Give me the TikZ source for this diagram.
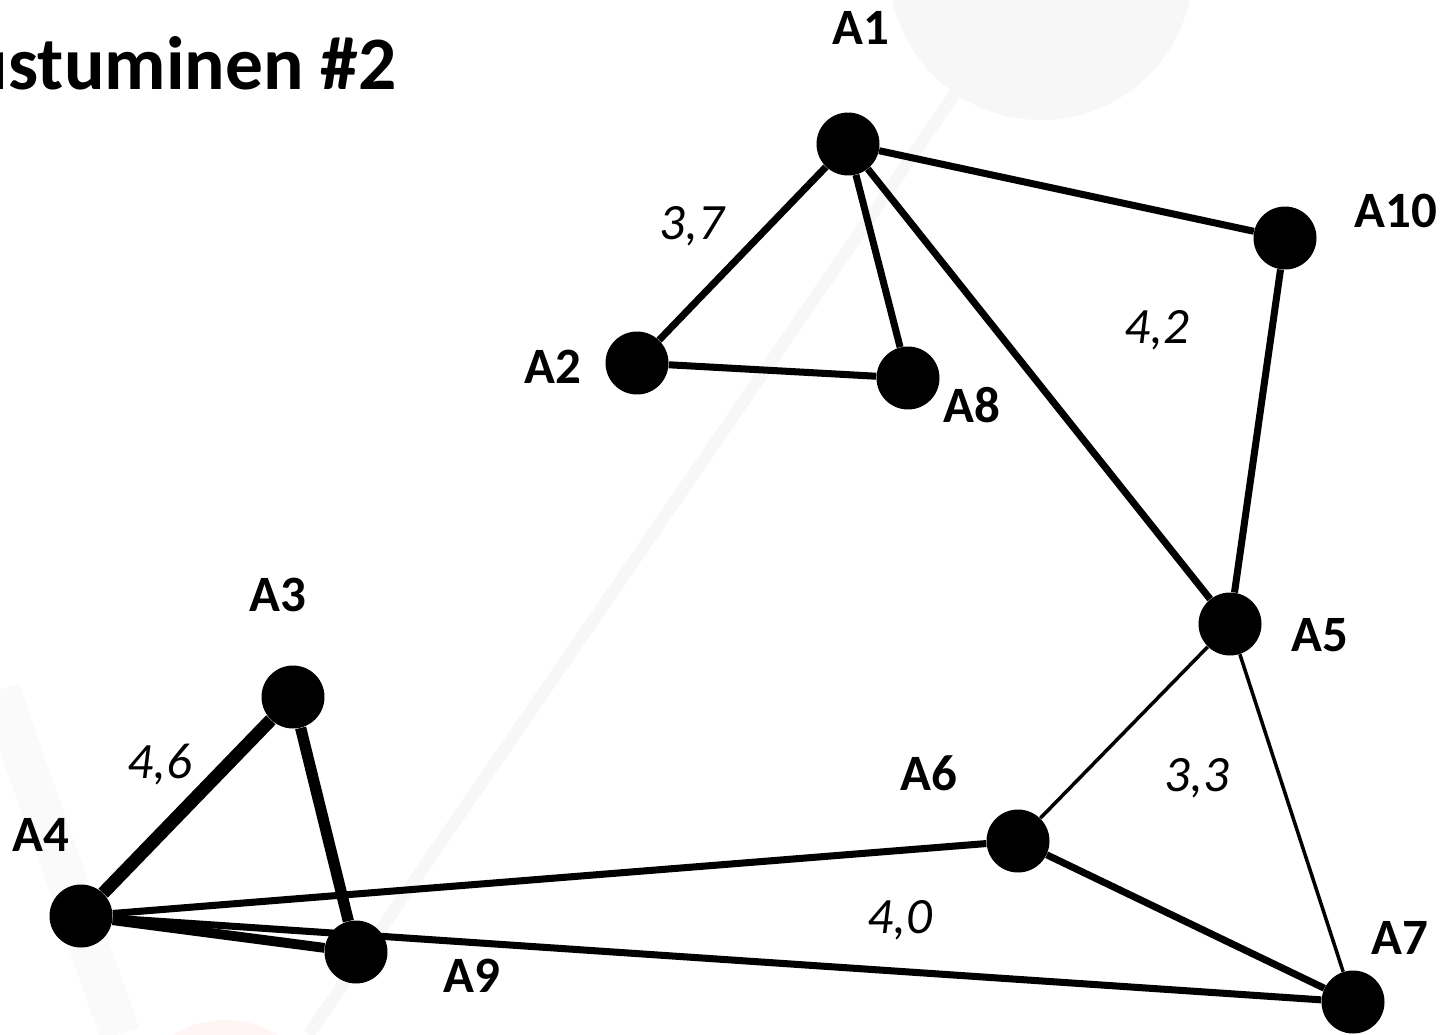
\documentclass[tikz,border=0pt]{standalone}
\usepackage{fontspec}
\setmainfont{Carlito}
\begin{document}
\begin{tikzpicture}[x=0.02cm,y=-0.02cm,
  dot/.style={circle,fill=black,inner sep=0pt,minimum size=1.26cm},
  link/.style={line width=4pt},
  thin link/.style={line width=2pt},
  heavy link/.style={line width=6.4pt},
  lbl/.style={font=\fontsize{29}{32}\selectfont\bfseries},
  wt/.style={font=\fontsize{29}{32}\selectfont\itshape}]
  % Canvas
  \useasboundingbox (0,0) rectangle (1442,1034);
  \fill[white] (0,0) rectangle (1442,1034);
  % Faint watermark behind the graph
  \fill[gray!6] (1041,-32) circle (3.04cm);
  \draw[gray!6,line width=0.24cm] (985,50) -- (309,1034);
  \draw[gray!4,line width=0.8cm] (0,690) -- (120,1034);
  \fill[red!4] (225,1120) circle (2cm);
  % Title (cut at the left edge)
  \node[anchor=base east,inner sep=0pt,font=\fontsize{43}{46}\selectfont\bfseries] (title) at (397,90) {ustuminen \#2};
  % Vertices
  \node[dot] (a1) at (848,144) {};
  \node[dot] (a2) at (637,363) {};
  \node[dot] (a3) at (293,697) {};
  \node[dot] (a4) at (81,916) {};
  \node[dot] (a5) at (1230,624) {};
  \node[dot] (a6) at (1018,841) {};
  \node[dot] (a7) at (1353,1002) {};
  \node[dot] (a8) at (908,378) {};
  \node[dot] (a9) at (356,952) {};
  \node[dot] (a10) at (1285,238) {};
  % Vertex names
  \node[lbl] (l1) at (861,28) {A1};
  \node[lbl] (l2) at (553,367) {A2};
  \node[lbl] (l3) at (278,595) {A3};
  \node[lbl] (l4) at (41,835) {A4};
  \node[lbl] (l5) at (1320,635) {A5};
  \node[lbl] (l6) at (929,773) {A6};
  \node[lbl] (l7) at (1400,938) {A7};
  \node[lbl] (l8) at (972,405) {A8};
  \node[lbl] (l9) at (472,976) {A9};
  \node[lbl] (l10) at (1396,211) {A10};
  % Edges
  \draw[link] (a1) -- (a2);
  \draw[link] (a1) -- (a8);
  \draw[link] (a1) -- (a5);
  \draw[link] (a1) -- (a10);
  \draw[link] (a2) -- (a8);
  \draw[link] (a10) -- (a5);
  \draw[thin link] (a5) -- (a6);
  \draw[thin link] (a5) -- (a7);
  \draw[link] (a6) -- (a7);
  \draw[link] (a6) -- (a4);
  \draw[link] (a4) -- (a7);
  \draw[heavy link,line width=7.4pt] (a3) -- (a4);
  \draw[heavy link] (a3) -- (a9);
  \draw[heavy link,line width=5.6pt] (a4) -- (a9);
  % Distances
  \node[wt] (w1) at (692,226) {3,7};
  \node[wt] (w2) at (1157,330) {4,2};
  \node[wt] (w3) at (160,765) {4,6};
  \node[wt] (w4) at (1197,778) {3,3};
  \node[wt] (w5) at (900,920) {4,0};
\end{tikzpicture}
\end{document}
